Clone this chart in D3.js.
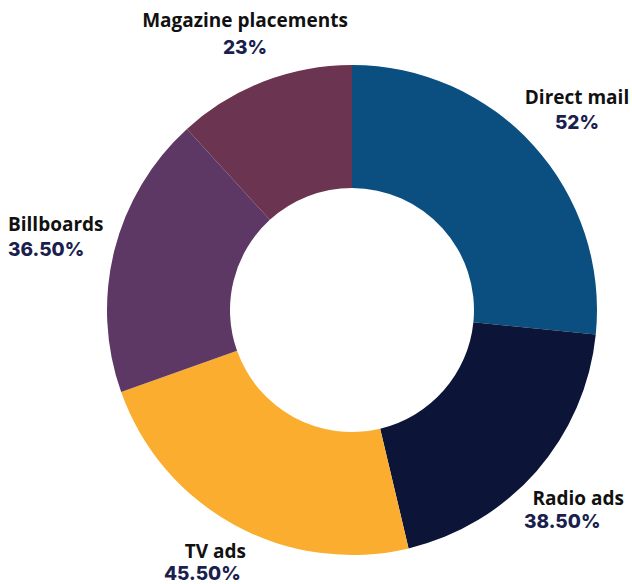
<!DOCTYPE html>
<html>
<head>
<meta charset="utf-8">
<script src="https://cdn.jsdelivr.net/npm/d3@7"></script>
<style>
  html, body { margin: 0; padding: 0; background: #ffffff; }
  svg { display: block; }
  .name { font-family: "Open Sans", sans-serif; font-weight: 700; fill: #111111; }
  .pct { font-family: "Inter", "Lato", sans-serif; font-weight: 800; fill: #1b1f4d; }
</style>
</head>
<body>
<svg id="chart" width="632" height="584"></svg>
<script>
// Marketing channel shares
const categories = ["Direct mail", "Radio ads", "TV ads", "Billboards", "Magazine placements"];
const values = [52, 38.5, 45.5, 36.5, 23];
const valueLabels = ["52%", "38.50%", "45.50%", "36.50%", "23%"];
const colors = ["#0b4f80", "#0c1538", "#faad2f", "#5e3865", "#6b3451"];

// label placement: [x, nameBaseline, pctBaseline, nameAnchor, pctX, pctAnchor]
const labelLayout = [
  [577, 104, 129, "middle", 577, "middle"],
  [624, 505, 528, "end", 524, "start"],
  [246, 558, 580, "end", 164, "start"],
  [8, 231, 256, "start", 8, "start"],
  [245, 27, 54, "middle", 245, "middle"]
];

const width = 632, height = 584;
const cx = 352, cy = 310;
const outerR = 245, innerR = 122;

const svg = d3.select("#chart");
const g = svg.append("g").attr("transform", `translate(${cx},${cy})`);

const pie = d3.pie().sort(null).value(d => d.value);
const arc = d3.arc().innerRadius(innerR).outerRadius(outerR);

const data = categories.map((c, i) => ({ name: c, value: values[i], label: valueLabels[i], color: colors[i] }));

g.selectAll("path")
  .data(pie(data))
  .join("path")
  .attr("d", arc)
  .attr("fill", d => d.data.color);

const labels = svg.append("g");
data.forEach((d, i) => {
  const [x, nameY, pctY, nameAnchor, pctX, pctAnchor] = labelLayout[i];
  labels.append("text")
    .attr("class", "name")
    .attr("x", x).attr("y", nameY)
    .attr("text-anchor", nameAnchor)
    .attr("font-size", 19)
    .text(d.name);
  labels.append("text")
    .attr("class", "pct")
    .attr("x", pctX).attr("y", pctY)
    .attr("text-anchor", pctAnchor)
    .attr("font-size", 19)
    .text(d.label);
});
</script>
</body>
</html>
